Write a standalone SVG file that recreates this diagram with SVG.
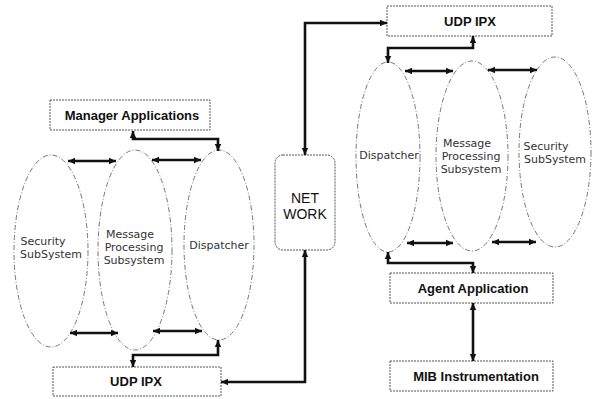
<svg xmlns="http://www.w3.org/2000/svg" width="594" height="399" viewBox="0 0 594 399">
  <style>
    .bg { fill: #ffffff; }
    .box { fill: #ffffff; stroke: #555; stroke-width: 1; stroke-dasharray: 2 1; }
    .oval { fill: none; stroke: #666; stroke-width: 0.9; stroke-dasharray: 5 2 1 2; }
    .net { fill: #ffffff; stroke: #555; stroke-width: 1; stroke-dasharray: 2 1; }
    .lbl { font-family: "Liberation Sans", Arial, sans-serif; font-size: 13px; font-weight: bold; fill: #111; text-anchor: middle; }
    .sub { font-family: "DejaVu Sans", "Liberation Sans", sans-serif; font-size: 11px; fill: #333; text-anchor: middle; }
    .netlbl { font-family: "Liberation Sans", Arial, sans-serif; font-size: 14px; fill: #111; text-anchor: middle; }
    .link { fill: none; stroke: #111; stroke-width: 2.6; stroke-linejoin: miter; marker-start: url(#head); marker-end: url(#head); }
  </style>
  <defs>
    <marker id="head" markerUnits="userSpaceOnUse" markerWidth="8" markerHeight="8" refX="7" refY="4" orient="auto-start-reverse">
      <path d="M0,0.8 L7,4 L0,7.2 Z" fill="#111"/>
    </marker>
  </defs>

  <rect class="bg" x="0" y="0" width="594" height="399"/>

  <!-- manager side -->
  <g id="manager-applications">
    <rect class="box" x="50" y="100" width="160" height="30"/>
    <text class="lbl" x="132" y="120">Manager Applications</text>
  </g>
  <g id="manager-security">
    <ellipse class="oval" cx="51" cy="251" rx="37" ry="96"/>
    <text class="sub" x="43" y="245">Security</text>
    <text class="sub" x="51" y="258">SubSystem</text>
  </g>
  <g id="manager-message-processing">
    <ellipse class="oval" cx="135" cy="250" rx="37" ry="100"/>
    <text class="sub" x="130" y="238">Message</text>
    <text class="sub" x="134" y="251">Processing</text>
    <text class="sub" x="134" y="264">Subsystem</text>
  </g>
  <g id="manager-dispatcher">
    <ellipse class="oval" cx="219" cy="245" rx="35" ry="95"/>
    <text class="sub" x="219" y="249">Dispatcher</text>
  </g>
  <g id="manager-udp-ipx">
    <rect class="box" x="53" y="367" width="168" height="29"/>
    <text class="lbl" x="136" y="386">UDP IPX</text>
  </g>

  <!-- network -->
  <g id="network">
    <rect class="net" x="275" y="155" width="60" height="95" rx="8" ry="8"/>
    <text class="netlbl" x="305" y="203">NET</text>
    <text class="netlbl" x="305" y="219">WORK</text>
  </g>

  <!-- agent side -->
  <g id="agent-udp-ipx">
    <rect class="box" x="387" y="6" width="165" height="30"/>
    <text class="lbl" x="470" y="26">UDP IPX</text>
  </g>
  <g id="agent-dispatcher">
    <ellipse class="oval" cx="388" cy="157" rx="32" ry="95"/>
    <text class="sub" x="389" y="159">Dispatcher</text>
  </g>
  <g id="agent-message-processing">
    <ellipse class="oval" cx="472" cy="156" rx="36" ry="95"/>
    <text class="sub" x="467" y="147">Message</text>
    <text class="sub" x="471" y="160">Processing</text>
    <text class="sub" x="471" y="173">Subsystem</text>
  </g>
  <g id="agent-security">
    <ellipse class="oval" cx="555" cy="152" rx="36" ry="95"/>
    <text class="sub" x="546" y="150">Security</text>
    <text class="sub" x="555" y="163">SubSystem</text>
  </g>
  <g id="agent-application">
    <rect class="box" x="390" y="273" width="163" height="30"/>
    <text class="lbl" x="473" y="293">Agent Application</text>
  </g>
  <g id="mib-instrumentation">
    <rect class="box" x="390" y="361" width="163" height="30"/>
    <text class="lbl" x="476" y="381">MIB Instrumentation</text>
  </g>

  <!-- connectors: thick two-headed links -->
  <g id="connectors">
    <path class="link" d="M133,131 V139 H218 V151"/>
    <path class="link" d="M68,161 H116"/>
    <path class="link" d="M152,160 H201"/>
    <path class="link" d="M70,333 H118"/>
    <path class="link" d="M153,331 H202"/>
    <path class="link" d="M218,340 V355 H133 V367"/>
    <path class="link" d="M221,382 H305 V250"/>
    <path class="link" d="M305,155 V23 H387"/>
    <path class="link" d="M473,36 V48 H388 V63"/>
    <path class="link" d="M405,71 H453"/>
    <path class="link" d="M488,70 H537"/>
    <path class="link" d="M407,243 H453"/>
    <path class="link" d="M492,242 H536"/>
    <path class="link" d="M388,252 V263 H473 V273"/>
    <path class="link" d="M473,303 V361"/>
  </g>
</svg>
